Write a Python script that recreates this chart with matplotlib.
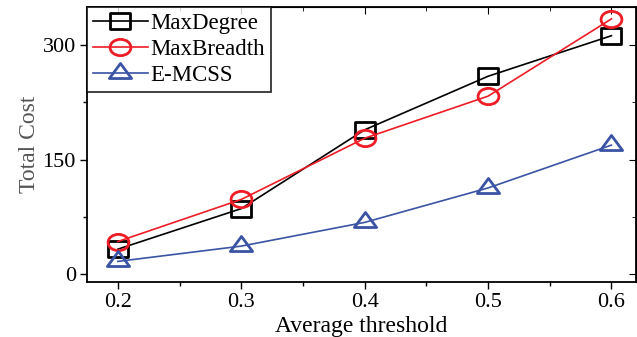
import matplotlib.pyplot as plt
from matplotlib.markers import MarkerStyle
from matplotlib.path import Path
from matplotlib.transforms import Affine2D
from matplotlib.ticker import MultipleLocator

plt.rcParams['font.family'] = ['Liberation Serif', 'DejaVu Serif']

thresholds = [0.2, 0.3, 0.4, 0.5, 0.6]
max_degree = [33, 86, 189, 259, 312]
max_breadth = [43, 98, 178, 233, 334]
e_mcss = [17, 37, 68, 113, 169]

# the original picture is stretched sideways, so the markers are a bit wide
stretch = Affine2D().scale(1.28, 1.0)
sq = MarkerStyle(stretch.transform_path(Path.unit_rectangle().transformed(
    Affine2D().translate(-0.5, -0.5))))
circ = MarkerStyle(stretch.transform_path(Path.unit_circle()))
tri = MarkerStyle(stretch.transform_path(Path.unit_regular_polygon(3)))

fig = plt.figure(figsize=(6.37, 3.37), dpi=100)
ax = fig.add_axes([0.1366, 0.163, 0.862, 0.815])

ax.plot(thresholds, max_degree, color='black', lw=1.2, marker=sq, ms=14,
        mfc='none', mew=2, label='MaxDegree')
ax.plot(thresholds, max_breadth, color='#ee1c25', lw=1.2, marker=circ, ms=15,
        mfc='none', mew=2, label='MaxBreadth')
ax.plot(thresholds, e_mcss, color='#3a53a4', lw=1.2, marker=tri, ms=16,
        mfc='none', mew=2, label='E-MCSS')

ax.set_xlim(0.175, 0.62)
ax.set_ylim(-10, 349)
ax.set_xticks(thresholds)
ax.set_xticklabels(['0.2', '0.3', '0.4', '0.5', '0.6'])
ax.set_yticks([0, 150, 300])
ax.xaxis.set_minor_locator(MultipleLocator(0.05))
ax.yaxis.set_minor_locator(MultipleLocator(75))

ax.tick_params(axis='both', which='major', direction='out', length=5, width=1,
               labelsize=16, top=False, right=False, pad=3)
ax.tick_params(axis='both', which='minor', direction='out', length=3, width=1)
for s in ax.spines.values():
    s.set_linewidth(1.3)

# inward ticks on the top and right edges
ax_top = ax.secondary_xaxis('top')
ax_top.set_xticks(thresholds)
ax_top.xaxis.set_minor_locator(MultipleLocator(0.05))
ax_top.tick_params(which='major', direction='in', length=5, labeltop=False)
ax_top.tick_params(which='minor', direction='in', length=3)
ax_right = ax.secondary_yaxis('right')
ax_right.set_yticks([0, 150, 300])
ax_right.yaxis.set_minor_locator(MultipleLocator(75))
ax_right.tick_params(which='major', direction='in', length=5, labelright=False)
ax_right.tick_params(which='minor', direction='in', length=3)

ax.set_xlabel('Average threshold', fontsize=17, labelpad=3)
ax.set_ylabel('Total Cost', fontsize=17, color='#555555', labelpad=2)

leg = ax.legend(loc='upper left', fontsize=16.5, frameon=True, fancybox=False,
                edgecolor='black', borderaxespad=0, handlelength=2.4,
                handletextpad=0.12, borderpad=0.25, labelspacing=0.22)
leg.get_frame().set_linewidth(1.3)

fig.savefig('out.png', dpi=100)
